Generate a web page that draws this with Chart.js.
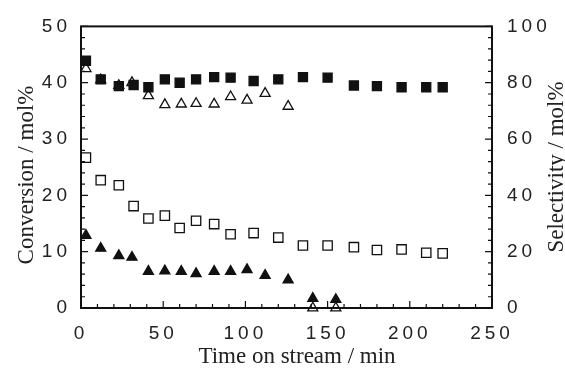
<!DOCTYPE html>
<html>
<head>
<meta charset="utf-8"/>
<title>Conversion / selectivity vs time on stream</title>
<script src="https://cdn.jsdelivr.net/npm/chart.js"></script>
<style>
	html,body{margin:0;padding:0;background:#fff;}
	#wrap{width:565px;height:374px;}
</style>
</head>
<body>
<div id="wrap"><canvas id="chart"></canvas></div>
<script>
// squares: time on stream (min)
const timeSq = [3, 12, 23, 32, 41, 51, 60, 70, 81, 91, 105, 120, 135, 150, 166, 180, 195, 210, 220];
// filled squares, selectivity (mol%, right axis)
const selSquare = [87.8, 81.2, 78.8, 79.2, 78.4, 81.2, 80.0, 81.2, 82.0, 81.8, 80.6, 81.2, 82.0, 81.8, 79.0, 78.8, 78.4, 78.4, 78.4];
// open squares, conversion (mol%, left axis)
const convSquare = [26.7, 22.7, 21.8, 18.1, 15.9, 16.4, 14.2, 15.5, 14.9, 13.1, 13.3, 12.5, 11.1, 11.1, 10.8, 10.3, 10.4, 9.8, 9.7];

// triangles: time on stream (min)
const timeTri = [3, 12, 23, 31, 41, 51, 61, 70, 81, 91, 101, 112, 126, 141, 155];
// filled triangles, conversion (left axis)
const convTri = [12.9, 10.6, 9.3, 9.0, 6.5, 6.6, 6.5, 6.1, 6.5, 6.5, 6.8, 5.8, 5.0, 1.7, 1.5];
// open triangles, selectivity (right axis)
const selTri = [85.0, 81.0, 79.0, 80.0, 75.4, 72.2, 72.4, 72.6, 72.4, 75.0, 73.8, 76.2, 71.6, 0, 0];

const xTitle = "Time on stream / min";
const yTitle = "Conversion / mol%";
const y1Title = "Selectivity / mol%";

const INK = "#111";
const tickFont = {family: "Liberation Sans", size: 19};

function series(xs, ys, axis, style, filled, r, order) {
	return {
		data: xs.map(function(x, i){ return {x: x, y: ys[i]}; }),
		yAxisID: axis,
		showLine: false,
		pointStyle: style,
		pointRadius: r,
		pointHoverRadius: r,
		pointBackgroundColor: filled ? INK : "#fff",
		pointBorderColor: INK,
		pointBorderWidth: 1.3,
		clip: false,
		order: order
	};
}

// wide spacing of the tick numbers
const spacing = {
	id: "spacing",
	beforeDraw(chart) { chart.ctx.letterSpacing = "4px"; }
};

// inward tick marks, frame and axis titles
const decor = {
	id: "decor",
	afterDraw(chart) {
		const ctx = chart.ctx, a = chart.chartArea;
		const sx = chart.scales.x, sy = chart.scales.y, sy1 = chart.scales.y1;
		ctx.save();
		ctx.letterSpacing = "0px";
		ctx.strokeStyle = INK;
		ctx.lineWidth = 2;
		ctx.strokeRect(a.left, a.top, a.right - a.left, a.bottom - a.top);
		ctx.lineWidth = 1.2;
		ctx.beginPath();
		for (let v = 0; v <= 250; v += 10) {
			const p = sx.getPixelForValue(v), len = v % 50 === 0 ? 7 : 4;
			ctx.moveTo(p, a.bottom); ctx.lineTo(p, a.bottom - len);
		}
		for (let v = 0; v <= 50; v += 2) {
			const p = sy.getPixelForValue(v), len = v % 10 === 0 ? 7 : 4;
			ctx.moveTo(a.left, p); ctx.lineTo(a.left + len, p);
		}
		for (let v = 0; v <= 100; v += 4) {
			const p = sy1.getPixelForValue(v), len = v % 20 === 0 ? 7 : 4;
			ctx.moveTo(a.right, p); ctx.lineTo(a.right - len, p);
		}
		ctx.stroke();

		ctx.fillStyle = "#222";
		ctx.font = "23px 'Liberation Serif'";
		ctx.textAlign = "center";
		ctx.textBaseline = "middle";
		ctx.fillText(xTitle, 297, 357);
		ctx.translate(27, 175);
		ctx.rotate(-Math.PI / 2);
		ctx.fillText(yTitle, 0, 0);
		ctx.setTransform(1, 0, 0, 1, 0, 0);
		ctx.translate(557, 167);
		ctx.rotate(-Math.PI / 2);
		ctx.fillText(y1Title, 0, 0);
		ctx.restore();
	}
};

new Chart(document.getElementById("chart"), {
	type: "scatter",
	data: {
		datasets: [
			series(timeSq, selSquare, "y1", "rect", true, 6.4, 1),
			series(timeTri, selTri, "y1", "triangle", false, 5.8, 2),
			series(timeSq, convSquare, "y", "rect", false, 6.6, 3),
			series(timeTri, convTri, "y", "triangle", true, 5.8, 4)
		]
	},
	options: {
		responsive: true,
		maintainAspectRatio: false,
		animation: false,
		layout: {padding: {top: 22, left: 0, right: 0, bottom: 0}},
		plugins: {legend: {display: false}, tooltip: {enabled: false}},
		scales: {
			x: {
				type: "linear", position: "bottom", min: 0, max: 250,
				ticks: {stepSize: 50, padding: 14, font: tickFont, color: "#222", maxRotation: 0},
				grid: {display: false, drawTicks: false},
				border: {display: false},
				afterFit: function(s){ s.height = 66; }
			},
			y: {
				position: "left", min: 0, max: 50,
				ticks: {stepSize: 10, padding: 10, font: tickFont, color: "#222"},
				grid: {display: false, drawTicks: false},
				border: {display: false},
				afterFit: function(s){ s.width = 81; }
			},
			y1: {
				position: "right", min: 0, max: 100,
				ticks: {stepSize: 20, padding: 15, font: tickFont, color: "#222"},
				grid: {display: false, drawTicks: false},
				border: {display: false},
				afterFit: function(s){ s.width = 73; }
			}
		}
	},
	plugins: [spacing, decor]
});
</script>
</body>
</html>
